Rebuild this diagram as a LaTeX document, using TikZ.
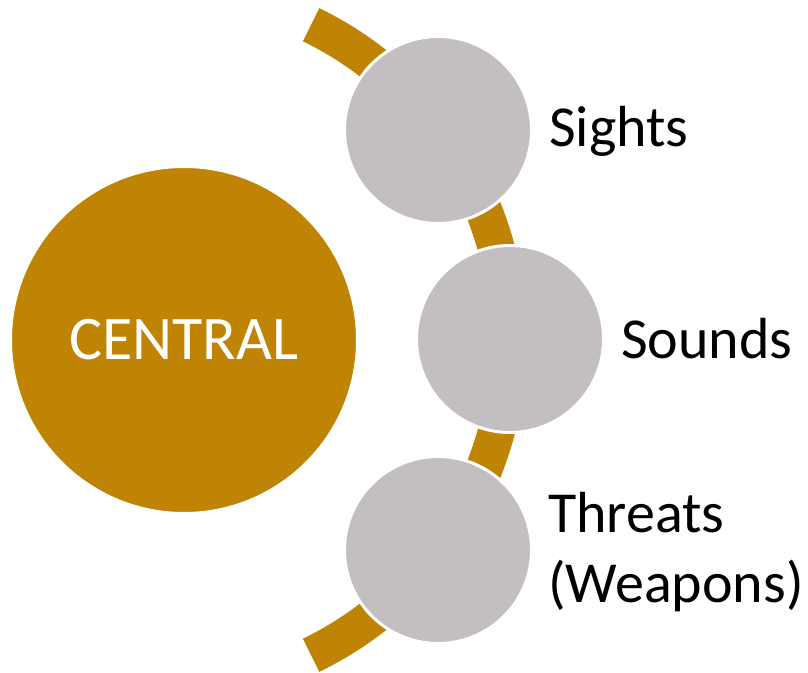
\documentclass[tikz,border=0pt]{standalone}
\usepackage{fontspec}
\setmainfont{Carlito}
\definecolor{gold}{HTML}{BF8404}
\definecolor{softgray}{HTML}{C3BEBF}
\begin{document}
\begin{tikzpicture}[x=1pt,y=1pt,
  hub/.style={circle, fill=gold, draw=white, line width=3pt, minimum size=347pt, inner sep=0pt,
    text=white, font=\fontsize{62}{74}\selectfont},
  leaf/.style={circle, fill=softgray, draw=white, line width=3pt, minimum size=187pt, inner sep=0pt},
  lbl/.style={anchor=west, inner sep=0pt, align=left, text=black, font=\fontsize{58}{70}\selectfont}]
\useasboundingbox (0,0) rectangle (808,672);
\coordinate (arcc) at (158,332);
\draw[gold, line width=37pt] (arcc) ++(-64.1:350.5) arc[start angle=-64.1, end angle=64.1, radius=350.5];
\node[hub] (central) at (184,332) {CENTRAL};
\node[leaf] (sights) at (438,542) {};
\node[leaf] (sounds) at (510,333) {};
\node[leaf] (threats) at (438,122) {};
\node[lbl] (lsights) at (549,541) {Sights};
\node[lbl] (lsounds) at (621,333) {Sounds};
\node[lbl] (lthreats) at (548,120) {Threats\\(Weapons)};
\end{tikzpicture}
\end{document}
